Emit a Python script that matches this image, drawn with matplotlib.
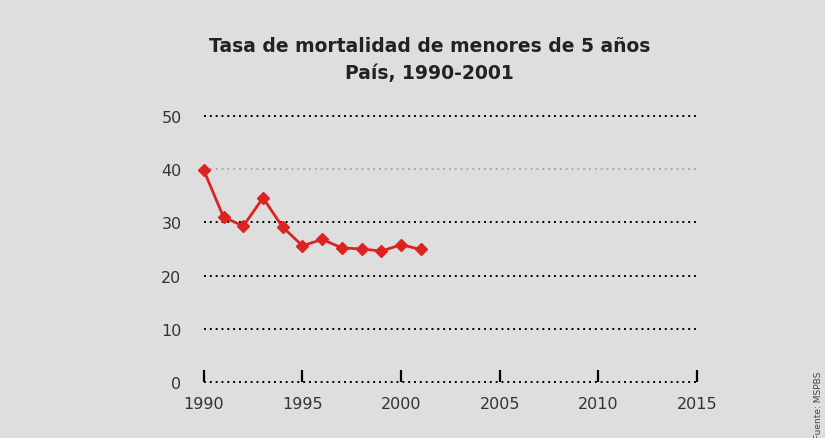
import matplotlib.pyplot as plt

# datos
anios = [1990, 1991, 1992, 1993, 1994, 1995, 1996, 1997, 1998, 1999, 2000, 2001]
tasa = [39.8, 31.0, 29.3, 34.6, 29.1, 25.6, 26.8, 25.2, 25.0, 24.6, 25.8, 24.9]
ticks_x = [1990, 1995, 2000, 2005, 2010, 2015]
ticks_y = [0, 10, 20, 30, 40, 50]

fondo = '#dedede'
rojo = '#dd2222'

fig = plt.figure(figsize=(8.25, 4.39), dpi=100, facecolor=fondo)
ax = fig.add_axes([0.247, 0.1276, 0.598, 0.606], facecolor=fondo)

# lineas de referencia punteadas
for y in ticks_y:
    color = '#aaaaaa' if y == 40 else 'black'
    ax.axhline(y, color=color, linewidth=1.4, linestyle=(0, (1, 2)), zorder=1, clip_on=False)

ax.plot(anios, tasa, color=rojo, linewidth=2, marker='D', markersize=6.5,
        zorder=3, clip_on=False)

ax.set_xlim(1990, 2015)
ax.set_ylim(0, 50)
ax.set_xticks(ticks_x)
ax.set_yticks(ticks_y)
for s in ax.spines.values():
    s.set_visible(False)

ax.tick_params(axis='x', direction='in', length=9, width=1.6, color='black',
               pad=10, labelsize=11.5, labelcolor='#333333')
ax.tick_params(axis='y', length=0, pad=16, labelsize=11.5, labelcolor='#333333')

fig.text(0.521, 0.863, 'Tasa de mortalidad de menores de 5 años\nPaís, 1990-2001',
         ha='center', va='center', fontsize=13.5, fontweight='bold', color='#222222',
         linespacing=1.55)

fig.text(0.997, 0.0, 'Fuente: MSPBS', rotation=90, ha='right', va='bottom',
         fontsize=6.5, color='#444444')

plt.savefig('out.png', dpi=100, facecolor=fondo)
